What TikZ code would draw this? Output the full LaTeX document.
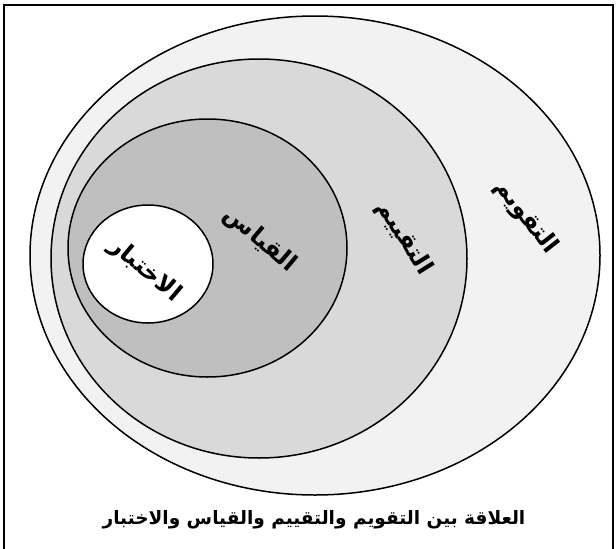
\documentclass[tikz,border=0pt]{standalone}
\usepackage{fontspec}
\newfontfamily\arabicfont[Script=Arabic]{DejaVu Sans}
\TeXXeTstate=1
\usetikzlibrary{shapes.geometric}

\begin{document}
\begin{tikzpicture}[
    x=1pt, y=-1pt,
    ring/.style={
        draw=black,
        ellipse,
        line width=1.5pt,
        inner sep=0pt
    },
    ringlabel/.style={
        font=\arabicfont\bfseries\fontsize{24}{24}\selectfont,
        inner sep=0pt
    }
]
    \useasboundingbox (0,0) rectangle (616,549);
    \clip (0,0) rectangle (616,549);
    \fill[white] (0,0) rectangle (616,549);
    \draw[line width=2pt] (4,5) rectangle (613,560);
    % nested rings
    \node[ring, fill=black!5, minimum width=570pt, minimum height=479pt] (taqwim) at (315,255.5) {};
    \node[ring, fill=black!15, minimum width=416pt, minimum height=399pt] (taqyim) at (259,258.5) {};
    \node[ring, fill=black!25, minimum width=279pt, minimum height=258pt] (qiyas) at (207.5,248) {};
    \node[ring, fill=white, minimum width=130pt, minimum height=118pt] (ikhtibar) at (148,264) {};
    % labels
    \node[ringlabel, rotate=-52] (taqwimlabel) at (526,217) {\beginR التقويم\endR};
    \node[ringlabel, rotate=-58] (taqyimlabel) at (404,238) {\beginR التقييم\endR};
    \node[ringlabel, rotate=-40] (qiyaslabel) at (260,240) {\beginR القياس\endR};
    \node[ringlabel, rotate=-40] (ikhtibarlabel) at (145,270) {\beginR الاختبار\endR};
    \node[font=\arabicfont\bfseries\fontsize{18.5}{18.5}\selectfont] (caption) at (314,520)
        {\beginR العلاقة بين التقويم والتقييم والقياس والاختبار\endR};
\end{tikzpicture}
\end{document}
